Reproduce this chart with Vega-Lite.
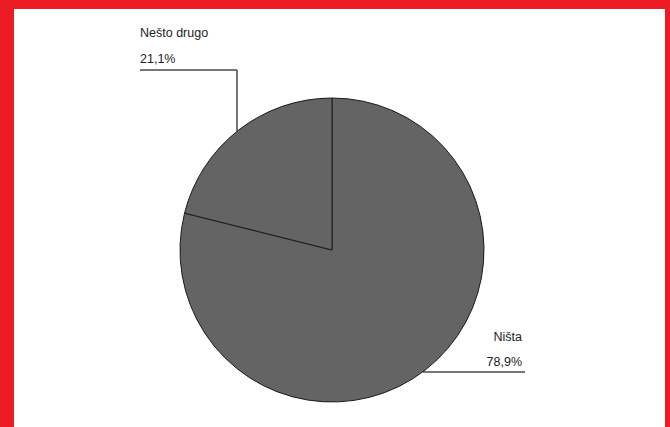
{
  "$schema": "https://vega.github.io/schema/vega-lite/v6.json",
  "width": 670,
  "height": 427,
  "autosize": {"type": "fit", "contains": "padding"},
  "padding": {"left": 14, "top": 9, "right": 5, "bottom": 0},
  "background": "#ed1c24",
  "config": {"view": {"fill": "white", "stroke": null}},
  "datasets": {
    "slices": [
      {"kategorija": "Ništa", "udio": 78.9, "redoslijed": 1},
      {"kategorija": "Nešto drugo", "udio": 21.1, "redoslijed": 2}
    ],
    "labels": [
      {"tekst": "Nešto drugo", "px": -192, "py": 213, "strana": "lijevo", "tezina": "bold"},
      {"tekst": "21,1%", "px": -192, "py": 187.5, "strana": "lijevo", "tezina": "normal"},
      {"tekst": "Ništa", "px": 190, "py": -90.5, "strana": "desno", "tezina": "bold"},
      {"tekst": "78,9%", "px": 190, "py": -116, "strana": "desno", "tezina": "normal"}
    ],
    "leaders": [
      {"x1": -192, "y1": 180, "x2": -95, "y2": 180},
      {"x1": -95, "y1": 180, "x2": -95, "y2": 119},
      {"x1": 91, "y1": -122, "x2": 193, "y2": -122}
    ]
  },
  "layer": [
    {
      "data": {"name": "leaders"},
      "mark": {"type": "rule", "color": "#4a4a4a", "strokeWidth": 1.5},
      "encoding": {
        "x": {"field": "x1", "type": "quantitative", "scale": {"domain": [-318, 333], "nice": false, "zero": false}, "axis": null},
        "y": {"field": "y1", "type": "quantitative", "scale": {"domain": [-177, 241], "nice": false, "zero": false}, "axis": null},
        "x2": {"field": "x2"},
        "y2": {"field": "y2"}
      }
    },
    {
      "data": {"name": "slices"},
      "mark": {"type": "arc", "radius": 152, "fill": "#646464", "stroke": "#1a1a1a", "strokeWidth": 1},
      "encoding": {
        "theta": {"field": "udio", "type": "quantitative", "stack": true},
        "order": {"field": "redoslijed", "type": "quantitative"},
        "x": {"datum": 0, "type": "quantitative", "scale": {"domain": [-318, 333], "nice": false, "zero": false}, "axis": null},
        "y": {"datum": 0, "type": "quantitative", "scale": {"domain": [-177, 241], "nice": false, "zero": false}, "axis": null}
      }
    },
    {
      "data": {"name": "labels"},
      "transform": [{"filter": "datum.strana === 'lijevo'"}],
      "mark": {"type": "text", "align": "left", "baseline": "alphabetic", "font": "Liberation Sans", "fontSize": 12.5, "color": "#222222"},
      "encoding": {
        "x": {"field": "px", "type": "quantitative", "scale": {"domain": [-318, 333], "nice": false, "zero": false}, "axis": null},
        "y": {"field": "py", "type": "quantitative", "scale": {"domain": [-177, 241], "nice": false, "zero": false}, "axis": null},
        "text": {"field": "tekst"}
      }
    },
    {
      "data": {"name": "labels"},
      "transform": [{"filter": "datum.strana === 'desno'"}],
      "mark": {"type": "text", "align": "right", "baseline": "alphabetic", "font": "Liberation Sans", "fontSize": 12.5, "color": "#222222"},
      "encoding": {
        "x": {"field": "px", "type": "quantitative", "scale": {"domain": [-318, 333], "nice": false, "zero": false}, "axis": null},
        "y": {"field": "py", "type": "quantitative", "scale": {"domain": [-177, 241], "nice": false, "zero": false}, "axis": null},
        "text": {"field": "tekst"}
      }
    }
  ]
}
